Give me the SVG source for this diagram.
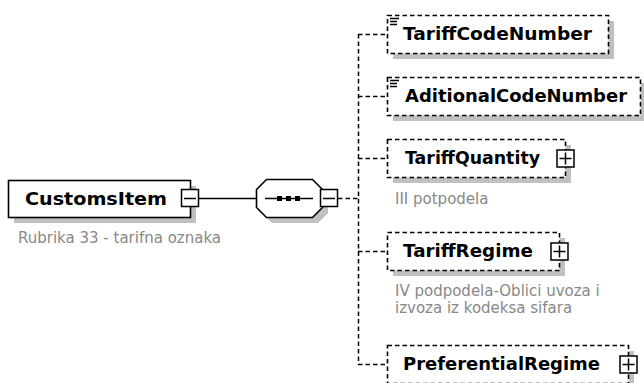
<svg xmlns="http://www.w3.org/2000/svg" width="644" height="383" viewBox="0 0 644 383">
<style>
.shadow{fill:#c0c0c0;stroke:none}
.box{fill:#fff;stroke:#000;stroke-width:1.6}
.opt{fill:#fff;stroke:#000;stroke-width:1.6;stroke-dasharray:4.5 3}
.name{font-family:"DejaVu Sans",Verdana,sans-serif;font-weight:bold;font-size:18px;fill:#000}
.desc{font-family:"DejaVu Sans",Verdana,sans-serif;font-size:15px;fill:#888888}
.btn{fill:#fff;stroke:#000;stroke-width:1.5}
.sym{stroke:#000;stroke-width:1.5;fill:none}
.conn{stroke:#000;stroke-width:1.5;fill:none}
.dash{stroke:#000;stroke-width:1.5;fill:none;stroke-dasharray:4.5 3}
</style>
<g id="connectors">
<line class="conn" x1="199" y1="198.5" x2="256" y2="198.5"/>
<line class="dash" x1="338" y1="198.5" x2="358" y2="198.5"/>
<line class="dash" x1="358.5" y1="34" x2="358.5" y2="365"/>
<line class="dash" x1="358" y1="34.5" x2="387" y2="34.5"/>
<line class="dash" x1="358" y1="96.5" x2="387" y2="96.5"/>
<line class="dash" x1="358" y1="158.5" x2="387" y2="158.5"/>
<line class="dash" x1="358" y1="251.5" x2="387" y2="251.5"/>
<line class="dash" x1="358" y1="364.5" x2="387" y2="364.5"/>
</g>
<g id="CustomsItem">
<rect class="shadow" x="14" y="186" width="182" height="37"/>
<rect class="box" x="8.5" y="180.5" width="182" height="37"/>
<text class="name" x="25" y="205" font-size="19" textLength="142" lengthAdjust="spacingAndGlyphs">CustomsItem</text>
<rect class="btn" x="181.5" y="189.5" width="17" height="17"/>
<line class="sym" x1="184" y1="198.5" x2="196" y2="198.5"/>
<text class="desc" x="18" y="243">Rubrika 33 - tarifna oznaka</text>
</g>
<g id="sequence">
<polygon class="shadow" points="272,185 318,185 328,195 328,213 318,223 272,223 262,213 262,195"/>
<polygon class="box" points="266.5,179.5 312.5,179.5 322.5,189.5 322.5,207.5 312.5,217.5 266.5,217.5 256.5,207.5 256.5,189.5"/>
<line class="sym" x1="265" y1="198.5" x2="313" y2="198.5"/>
<rect x="277" y="196" width="5" height="5" fill="#000"/>
<rect x="286" y="196" width="5" height="5" fill="#000"/>
<rect x="295" y="196" width="5" height="5" fill="#000"/>
<rect class="btn" x="320.5" y="189.5" width="17" height="17"/>
<line class="sym" x1="323" y1="198.5" x2="335" y2="198.5"/>
</g>
<g id="TariffCodeNumber">
<rect class="shadow" x="393" y="21" width="221" height="38"/>
<rect class="opt" x="387.5" y="15.5" width="221" height="38"/>
<path class="sym" d="M390 18.5h9M390 21.5h7M390 24.5h7"/>
<text class="name" x="403" y="40" textLength="189" lengthAdjust="spacingAndGlyphs">TariffCodeNumber</text>
</g>
<g id="AditionalCodeNumber">
<rect class="shadow" x="393" y="83" width="253" height="38"/>
<rect class="opt" x="387.5" y="77.5" width="253" height="38"/>
<path class="sym" d="M390 80.5h9M390 83.5h7M390 86.5h7"/>
<text class="name" x="405" y="102" textLength="222" lengthAdjust="spacingAndGlyphs">AditionalCodeNumber</text>
</g>
<g id="TariffQuantity">
<rect class="shadow" x="393" y="145" width="178" height="38"/>
<rect class="opt" x="387.5" y="139.5" width="178" height="38"/>
<text class="name" x="405" y="164" textLength="135" lengthAdjust="spacingAndGlyphs">TariffQuantity</text>
<rect class="btn" x="557" y="150" width="17" height="17"/>
<path class="sym" d="M559.5 158.5h12M565.5 152.5v12"/>
<text class="desc" x="395" y="204">III potpodela</text>
</g>
<g id="TariffRegime">
<rect class="shadow" x="393" y="238" width="172" height="38"/>
<rect class="opt" x="387.5" y="232.5" width="172" height="38"/>
<text class="name" x="403" y="257" textLength="130" lengthAdjust="spacingAndGlyphs">TariffRegime</text>
<rect class="btn" x="551" y="243" width="17" height="17"/>
<path class="sym" d="M553.5 251.5h12M559.5 245.5v12"/>
<text class="desc" x="395" y="296">IV podpodela-Oblici uvoza i</text>
<text class="desc" x="395" y="313">izvoza iz kodeksa sifara</text>
</g>
<g id="PreferentialRegime">
<rect class="shadow" x="393" y="351" width="241" height="38"/>
<rect class="opt" x="387.5" y="345.5" width="241" height="38"/>
<text class="name" x="403" y="370" textLength="197" lengthAdjust="spacingAndGlyphs">PreferentialRegime</text>
<rect class="btn" x="620" y="356" width="17" height="17"/>
<path class="sym" d="M622.5 364.5h12M628.5 358.5v12"/>
</g>
</svg>
